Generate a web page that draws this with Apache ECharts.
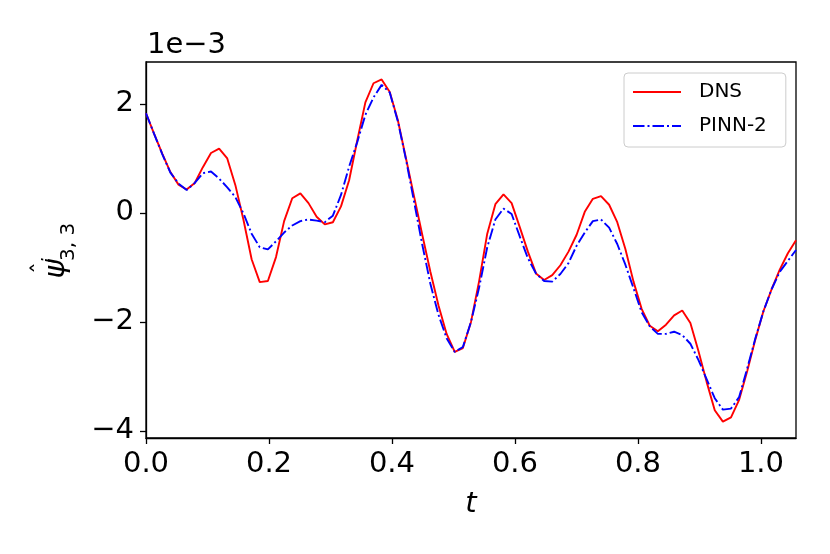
<!DOCTYPE html>
<html>
<head>
<meta charset="utf-8">
<script src="https://cdn.jsdelivr.net/npm/echarts@6/dist/echarts.min.js"></script>
<style>
  html, body { margin: 0; padding: 0; background: #fff; }
  #chart { width: 830px; height: 554px; }
</style>
</head>
<body>
<div id="chart"></div>
<script>
// sample times run 0 .. 1.057 in 80 equal steps
const tEnd = 1.057
const nSteps = 80

// values in units of 1e-3
const dns = [
  1.83, 1.45, 1.09, 0.75, 0.52, 0.43, 0.55, 0.84, 1.10, 1.18,
  1.00, 0.51, -0.13, -0.85, -1.27, -1.25, -0.81, -0.15, 0.27, 0.36,
  0.18, -0.07, -0.21, -0.17, 0.12, 0.60, 1.33, 2.03, 2.38, 2.45,
  2.22, 1.70, 1.00, 0.30, -0.40, -1.08, -1.70, -2.22, -2.55, -2.48,
  -2.00, -1.25, -0.38, 0.16, 0.34, 0.18, -0.26, -0.71, -1.11, -1.23,
  -1.14, -0.96, -0.71, -0.40, 0.02, 0.26, 0.31, 0.15, -0.17, -0.66,
  -1.26, -1.76, -2.07, -2.17, -2.05, -1.88, -1.79, -2.02, -2.54, -3.10,
  -3.62, -3.83, -3.75, -3.43, -2.90, -2.32, -1.80, -1.40, -1.04, -0.74,
  -0.50
]
const pinn2 = [
  1.83, 1.45, 1.08, 0.74, 0.54, 0.42, 0.55, 0.73, 0.76, 0.63,
  0.47, 0.29, -0.01, -0.38, -0.63, -0.67, -0.52, -0.36, -0.23, -0.15,
  -0.12, -0.14, -0.17, -0.05, 0.33, 0.85, 1.30, 1.80, 2.12, 2.35,
  2.21, 1.68, 0.98, 0.20, -0.58, -1.30, -1.87, -2.30, -2.55, -2.46,
  -2.00, -1.37, -0.63, -0.12, 0.08, -0.02, -0.43, -0.83, -1.11, -1.25,
  -1.26, -1.12, -0.92, -0.60, -0.36, -0.15, -0.12, -0.27, -0.57, -0.95,
  -1.38, -1.82, -2.08, -2.22, -2.22, -2.18, -2.24, -2.40, -2.70, -3.05,
  -3.40, -3.61, -3.59, -3.38, -2.85, -2.30, -1.80, -1.40, -1.08, -0.88,
  -0.68
]
const xTicks = [0, 0.2, 0.4, 0.6, 0.8, 1.0]
const yTicks = [-4, -2, 0, 2]

const font = 'DejaVu Sans'
const pairs = arr => arr.map((v, i) => [i * tEnd / nSteps, v])
const minus = v => (v < 0 ? '\u2212' + Math.abs(v) : String(v))

let chart = echarts.init(document.getElementById('chart'), null, {renderer: 'canvas'})
chart.setOption({
  animation: false,
  backgroundColor: '#fff',
  grid: {
    left: 146, right: 34, top: 62, bottom: 116,
    show: true, borderColor: '#000', borderWidth: 1.3, backgroundColor: 'transparent'
  },
  legend: {
    left: 624, top: 73,
    orient: 'vertical',
    itemWidth: 48, itemHeight: 14, itemGap: 14,
    padding: [9, 19, 11, 8],
    borderColor: '#cccccc', borderWidth: 1, borderRadius: 4,
    backgroundColor: '#fff',
    itemStyle: {opacity: 0},
    textStyle: {fontFamily: font, fontSize: 20, color: '#000', lineHeight: 20, padding: [0, 0, 0, 13]},
    data: ['DNS', 'PINN-2']
  },
  xAxis: {
    type: 'value', min: 0, max: tEnd,
    name: 't', nameLocation: 'middle', nameGap: 52,
    nameTextStyle: {fontFamily: font, fontSize: 29, fontStyle: 'italic', color: '#000'},
    axisLine: {show: true, onZero: false, lineStyle: {color: '#000', width: 1.3}},
    axisTick: {show: true, length: 6, lineStyle: {color: '#000', width: 1.3}, customValues: xTicks},
    axisLabel: {
      fontFamily: font, fontSize: 29, color: '#000', margin: 12,
      customValues: xTicks, formatter: v => v.toFixed(1)
    },
    splitLine: {show: false}
  },
  yAxis: {
    type: 'value', min: -4.13, max: 2.77,
    axisLine: {show: true, onZero: false, lineStyle: {color: '#000', width: 1.3}},
    axisTick: {show: true, length: 6, lineStyle: {color: '#000', width: 1.3}, customValues: yTicks},
    axisLabel: {
      fontFamily: font, fontSize: 29, color: '#000', margin: 12,
      customValues: yTicks, formatter: minus
    },
    splitLine: {show: false}
  },
  graphic: [
    {
      type: 'text', left: 147, top: 31,
      style: {text: '1e\u22123', font: '29px "DejaVu Sans"', fill: '#000'}
    },
    {
      // y axis label, rotated to read bottom to top
      type: 'group', x: 56, y: 278, rotation: Math.PI / 2,
      children: [
        {type: 'text', x: 9, y: 0, style: {text: '\u03c8', font: 'italic 29px "DejaVu Sans"', fill: '#000', align: 'center', verticalAlign: 'middle'}},
        {type: 'text', x: 10, y: -13, style: {text: '\u02c6', font: '24px "DejaVu Sans"', fill: '#000', align: 'center', verticalAlign: 'middle'}},
        {type: 'text', x: 17, y: -5, style: {text: 'i', font: 'italic 20px "DejaVu Sans"', fill: '#000', align: 'center', verticalAlign: 'middle'}},
        {type: 'text', x: 17, y: 13, style: {text: '3, 3', font: '20px "DejaVu Sans"', fill: '#000', align: 'left', verticalAlign: 'middle'}}
      ]
    }
  ],
  series: [
    {
      name: 'DNS', type: 'line', data: pairs(dns),
      symbol: 'none', lineStyle: {color: '#ff0000', width: 1.9}, itemStyle: {color: '#ff0000'}
    },
    {
      name: 'PINN-2', type: 'line', data: pairs(pinn2),
      symbol: 'none', lineStyle: {color: '#0000ff', width: 1.9, type: [11.5, 3, 2, 3]}, itemStyle: {color: '#0000ff'}
    }
  ]
})
</script>
</body>
</html>
